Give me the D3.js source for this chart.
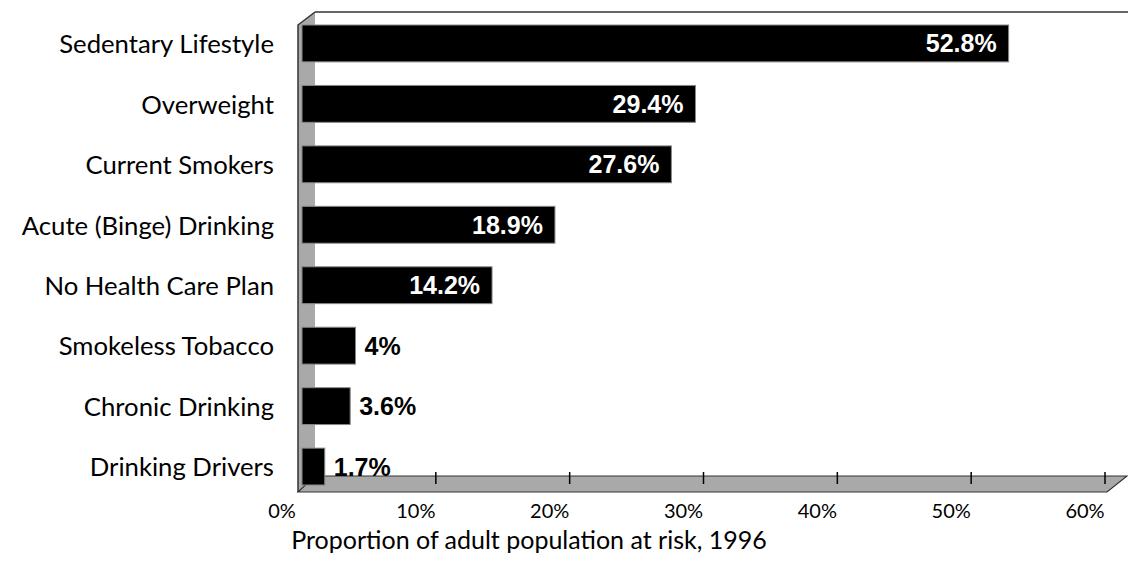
<!DOCTYPE html>
<html lang="en">
<head>
<meta charset="UTF-8">
<title>Adult risk factors, 1996</title>
<script src="https://d3js.org/d3.v7.min.js"></script>
<style>
  body { margin: 0; background: #fff; }
</style>
</head>
<body>
<svg id="chart" width="1128" height="570"></svg>
<script>
// data
const categories = ["Sedentary Lifestyle", "Overweight", "Current Smokers", "Acute (Binge) Drinking",
                    "No Health Care Plan", "Smokeless Tobacco", "Chronic Drinking", "Drinking Drivers"];
const values = [52.8, 29.4, 27.6, 18.9, 14.2, 4, 3.6, 1.7];
const valueLabels = ["52.8%", "29.4%", "27.6%", "18.9%", "14.2%", "4%", "3.6%", "1.7%"];
const tickValues = [0, 10, 20, 30, 40, 50, 60];
const tickLabels = ["0%", "10%", "20%", "30%", "40%", "50%", "60%"];

const svg = d3.select("#chart");
const W = +svg.attr("width");

// 3d depth offsets
const dx = 17, dy = 15;
const backTop = 12, backBottom = 476;
const frontLeft = 298;

const x = d3.scaleLinear().domain([0, 60]).range([302, 1105]);
const y = d3.scaleBand().domain(categories).range([12, 498])
  .paddingInner(0.39).paddingOuter(0.215);

const gray = "#a9a9a9", edge = "#333";
const font = "Lato, 'Open Sans', sans-serif";

// back wall top line
svg.append("line")
  .attr("x1", frontLeft + dx).attr("x2", W)
  .attr("y1", backTop).attr("y2", backTop)
  .attr("stroke", "#666").attr("stroke-width", 2);

// left wall
svg.append("path")
  .attr("d", `M${frontLeft},${backTop + dy - 2} L${frontLeft + dx},${backTop} L${frontLeft + dx},${backBottom} L${frontLeft},${backBottom + dy + 1} Z`)
  .attr("fill", gray).attr("stroke", "none");
svg.append("path")
  .attr("d", `M${frontLeft + dx},${backTop} L${frontLeft},${backTop + dy - 2} L${frontLeft},${backBottom + dy + 1}`)
  .attr("fill", "none").attr("stroke", edge).attr("stroke-width", 1.5);

// floor
const floorRight = x(60) + 22;
svg.append("path")
  .attr("d", `M${frontLeft},${backBottom + dy + 1} L${frontLeft + dx},${backBottom} L${floorRight},${backBottom} L${floorRight - dx - 3},${backBottom + dy + 1} Z`)
  .attr("fill", gray).attr("stroke", edge).attr("stroke-width", 1.2);

// ticks on the back edge of floor
svg.append("g").selectAll("line")
  .data(tickValues.slice(1))
  .join("line")
    .attr("x1", d => x(d)).attr("x2", d => x(d))
    .attr("y1", backBottom - 4).attr("y2", backBottom + 8)
    .attr("stroke", "#000").attr("stroke-width", 1.5);

// tick labels on the front edge
svg.append("g").selectAll("text")
  .data(tickValues)
  .join("text")
    .attr("x", d => x(d) - 20)
    .attr("y", 518)
    .attr("text-anchor", "middle")
    .style("font-family", font)
    .style("font-size", "20px")
    .attr("fill", "#000")
    .text((d, i) => tickLabels[i]);

// bars
svg.append("g").selectAll("rect")
  .data(categories)
  .join("rect")
    .attr("x", x(0))
    .attr("y", d => y(d))
    .attr("width", (d, i) => x(values[i]) - x(0))
    .attr("height", y.bandwidth())
    .attr("fill", "#000")
    .attr("stroke", "#888").attr("stroke-width", 1);

// value labels
svg.append("g").selectAll("text")
  .data(categories)
  .join("text")
    .attr("x", (d, i) => values[i] > 10 ? x(values[i]) - 12 : x(values[i]) + 9)
    .attr("y", d => y(d) + y.bandwidth() / 2)
    .attr("dy", "0.36em")
    .attr("text-anchor", (d, i) => values[i] > 10 ? "end" : "start")
    .attr("fill", (d, i) => values[i] > 10 ? "#fff" : "#000")
    .style("font-family", "'Liberation Sans', Arial, sans-serif")
    .style("font-weight", "bold")
    .style("font-size", "25px")
    .text((d, i) => valueLabels[i]);

// category labels
svg.append("g").selectAll("text")
  .data(categories)
  .join("text")
    .attr("x", 274)
    .attr("y", d => y(d) + y.bandwidth() / 2)
    .attr("dy", "0.38em")
    .attr("text-anchor", "end")
    .style("font-family", font)
    .style("font-size", "25.7px")
    .attr("fill", "#000")
    .text(d => d);

// axis title
svg.append("text")
  .attr("x", 529)
  .attr("y", 549)
  .attr("text-anchor", "middle")
  .style("font-family", font)
  .style("font-size", "25px")
  .attr("fill", "#000")
  .text("Proportion of adult population at risk, 1996");
</script>
</body>
</html>
